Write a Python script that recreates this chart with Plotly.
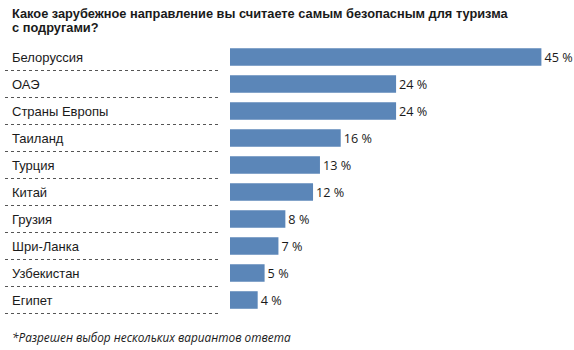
import plotly.graph_objects as go

categories = ["Белоруссия", "ОАЭ", "Страны Европы", "Таиланд", "Турция",
              "Китай", "Грузия", "Шри-Ланка", "Узбекистан", "Египет"]
values = [45, 24, 24, 16, 13, 12, 8, 7, 5, 4]
value_labels = [f"{v} %" for v in values]
title_lines = ["Какое зарубежное направление вы считаете самым безопасным для туризма",
               "с подругами?"]
footnote = "*Разрешен выбор нескольких вариантов ответа"

W, H = 574, 350
x0_px = 230.0
px_per_unit = 6.92
row0 = 57.0
pitch = 27.0

idx = list(range(len(categories)))

fig = go.Figure(go.Bar(
    x=values, y=idx, orientation="h",
    marker=dict(color="#5b86b8", line=dict(width=0)),
    width=0.65,
    text=value_labels, textposition="outside", cliponaxis=False,
    textfont=dict(family="Open Sans", size=13, color="#1a1a1a"),
    hoverinfo="skip",
))

fig.update_layout(
    width=W, height=H,
    margin=dict(l=0, r=0, t=0, b=0),
    paper_bgcolor="white", plot_bgcolor="white",
    showlegend=False,
    xaxis=dict(domain=[x0_px / W, 1], range=[0, (W - x0_px) / px_per_unit],
               visible=False, fixedrange=True),
    yaxis=dict(range=[(H - row0) / pitch, -row0 / pitch], visible=False,
               fixedrange=True),
)

annotations = []
shapes = []
for i, c in enumerate(categories):
    annotations.append(dict(
        x=10 / W, xref="paper", y=i, yref="y", text=c, showarrow=False,
        xanchor="left", yanchor="middle",
        font=dict(family="Liberation Sans, Arial", size=13, color="#1a1a1a"),
    ))
    shapes.append(dict(
        type="line", xref="paper", yref="y",
        x0=5 / W, x1=220 / W, y0=i + 0.5, y1=i + 0.5,
        line=dict(color="#555555", width=1, dash="dot"),
    ))

for k, (line, yc) in enumerate(zip(title_lines, [13, 28])):
    annotations.append(dict(
        x=10 / W, xref="paper", y=1 - yc / H, yref="paper", text="<b>" + line + "</b>",
        showarrow=False, xanchor="left", yanchor="middle", align="left",
        font=dict(family="Liberation Sans, Arial", size=12.8, color="#1a1a1a"),
    ))
annotations.append(dict(
    x=10 / W, xref="paper", y=1 - 337 / H, yref="paper", text="<i>" + footnote + "</i>",
    showarrow=False, xanchor="left", yanchor="middle",
    font=dict(family="Open Sans", size=11.8, color="#1a1a1a"),
))

fig.update_layout(annotations=annotations, shapes=shapes)
fig.write_html("out.html")
